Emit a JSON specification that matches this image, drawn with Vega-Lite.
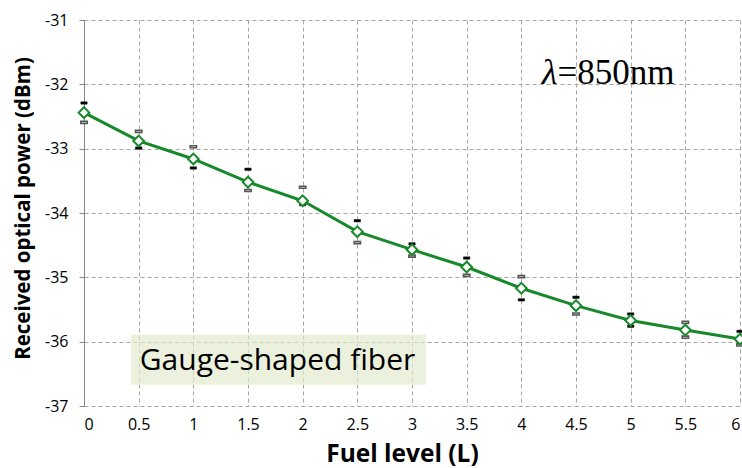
{
  "$schema": "https://vega.github.io/schema/vega-lite/v6.json",
  "width": 656,
  "height": 386,
  "autosize": "none",
  "padding": {"left": 84, "top": 20, "right": 2, "bottom": 62},
  "background": "white",
  "config": {
    "view": {"stroke": null},
    "font": "Open Sans",
    "axis": {
      "labelFont": "Open Sans",
      "labelFontSize": 16,
      "labelColor": "#000000",
      "titleFont": "Open Sans",
      "titleColor": "#000000",
      "titleFontWeight": "bold",
      "gridColor": "#a6a6a6",
      "gridDash": [4, 3],
      "gridWidth": 1,
      "domainColor": "#868686",
      "tickColor": "#868686"
    }
  },
  "datasets": {
    "mean": [
      {"fuel": 0, "power": -32.44},
      {"fuel": 0.5, "power": -32.88},
      {"fuel": 1, "power": -33.16},
      {"fuel": 1.5, "power": -33.52},
      {"fuel": 2, "power": -33.81},
      {"fuel": 2.5, "power": -34.29},
      {"fuel": 3, "power": -34.57},
      {"fuel": 3.5, "power": -34.84},
      {"fuel": 4, "power": -35.17},
      {"fuel": 4.5, "power": -35.44},
      {"fuel": 5, "power": -35.67},
      {"fuel": 5.5, "power": -35.82},
      {"fuel": 6, "power": -35.96}
    ],
    "marks": [
      {"fuel": 0, "power": -32.29, "kind": "black"},
      {"fuel": 0, "power": -32.59, "kind": "gray"},
      {"fuel": 0.5, "power": -32.73, "kind": "gray"},
      {"fuel": 0.5, "power": -32.99, "kind": "black"},
      {"fuel": 1, "power": -32.97, "kind": "gray"},
      {"fuel": 1, "power": -33.30, "kind": "black"},
      {"fuel": 1.5, "power": -33.32, "kind": "black"},
      {"fuel": 1.5, "power": -33.65, "kind": "gray"},
      {"fuel": 2, "power": -33.60, "kind": "gray"},
      {"fuel": 2, "power": -33.87, "kind": "black"},
      {"fuel": 2.5, "power": -34.12, "kind": "black"},
      {"fuel": 2.5, "power": -34.46, "kind": "gray"},
      {"fuel": 3, "power": -34.48, "kind": "black"},
      {"fuel": 3, "power": -34.67, "kind": "gray"},
      {"fuel": 3.5, "power": -34.70, "kind": "black"},
      {"fuel": 3.5, "power": -34.97, "kind": "gray"},
      {"fuel": 4, "power": -34.99, "kind": "gray"},
      {"fuel": 4, "power": -35.35, "kind": "black"},
      {"fuel": 4.5, "power": -35.31, "kind": "black"},
      {"fuel": 4.5, "power": -35.57, "kind": "gray"},
      {"fuel": 5, "power": -35.57, "kind": "black"},
      {"fuel": 5, "power": -35.76, "kind": "black"},
      {"fuel": 5.5, "power": -35.70, "kind": "gray"},
      {"fuel": 5.5, "power": -35.93, "kind": "gray"},
      {"fuel": 6, "power": -35.84, "kind": "black"},
      {"fuel": 6, "power": -36.05, "kind": "gray"}
    ],
    "box": [
      {"x1": 0.43, "x2": 3.13, "y1": -35.89, "y2": -36.67}
    ],
    "notes": [
      {"fuel": 0.51, "power": -36.44, "label": "Gauge-shaped fiber"}
    ],
    "lambda": [
      {"fuel": 4.33, "power": -32.0, "sym": "λ", "rest": "=850nm"}
    ]
  },
  "layer": [
    {
      "data": {"name": "box"},
      "mark": {"type": "rect", "fill": "#e0eacb", "opacity": 0.65},
      "encoding": {
        "x": {"field": "x1", "type": "quantitative", "scale": {"domain": [0, 6], "nice": false},
          "axis": {
            "values": [0, 0.5, 1, 1.5, 2, 2.5, 3, 3.5, 4, 4.5, 5, 5.5, 6],
            "format": "~g",
            "domain": false,
            "ticks": false,
            "labelPadding": 10,
            "title": "Fuel level (L)",
            "titleFontSize": 24.5,
            "titleX": 318,
            "titleY": 55,
            "titleBaseline": "alphabetic"
          }
        },
        "x2": {"field": "x2"},
        "y": {"field": "y1", "type": "quantitative", "scale": {"domain": [-37, -31], "nice": false},
          "axis": {
            "values": [-37, -36, -35, -34, -33, -32, -31],
            "labelExpr": "toString(datum.value)",
            "tickSize": 5,
            "labelPadding": 11,
            "title": "Received optical power (dBm)",
            "titleFontSize": 20.5,
            "titleX": -61,
            "titleY": 188,
            "titleBaseline": "middle"
          }
        },
        "y2": {"field": "y2"}
      }
    },
    {
      "mark": {"type": "rule", "color": "#868686", "strokeWidth": 1},
      "encoding": {"y": {"datum": -31, "type": "quantitative"}}
    },
    {
      "data": {"name": "mean"},
      "mark": {"type": "line", "color": "#17892b", "strokeWidth": 3},
      "encoding": {
        "x": {"field": "fuel", "type": "quantitative"},
        "y": {"field": "power", "type": "quantitative"}
      }
    },
    {
      "data": {"name": "marks"},
      "transform": [{"filter": "datum.kind === 'black'"}],
      "mark": {"type": "point", "shape": "M-1,-0.38L1,-0.38L1,0.38L-1,0.38Z", "size": 40, "filled": true, "fill": "#000000", "stroke": "#000000", "strokeWidth": 0.5, "opacity": 1},
      "encoding": {
        "x": {"field": "fuel", "type": "quantitative"},
        "y": {"field": "power", "type": "quantitative"}
      }
    },
    {
      "data": {"name": "marks"},
      "transform": [{"filter": "datum.kind === 'gray'"}],
      "mark": {"type": "point", "shape": "M-1,-0.33L1,-0.33L1,0.33L-1,0.33Z", "size": 40, "filled": true, "fill": "#ffffff", "stroke": "#555555", "strokeWidth": 1.6, "opacity": 1},
      "encoding": {
        "x": {"field": "fuel", "type": "quantitative"},
        "y": {"field": "power", "type": "quantitative"}
      }
    },
    {
      "data": {"name": "mean"},
      "mark": {"type": "point", "shape": "diamond", "size": 115, "filled": true, "fill": "#ffffff", "stroke": "#17892b", "strokeWidth": 2, "opacity": 1},
      "encoding": {
        "x": {"field": "fuel", "type": "quantitative"},
        "y": {"field": "power", "type": "quantitative"}
      }
    },
    {
      "data": {"name": "notes"},
      "mark": {"type": "text", "align": "left", "baseline": "alphabetic", "font": "Open Sans", "fontSize": 30, "color": "#000000"},
      "encoding": {
        "x": {"field": "fuel", "type": "quantitative"},
        "y": {"field": "power", "type": "quantitative"},
        "text": {"field": "label"}
      }
    },
    {
      "data": {"name": "lambda"},
      "mark": {"type": "text", "align": "right", "baseline": "alphabetic", "font": "Liberation Serif", "fontStyle": "italic", "fontSize": 36, "color": "#000000"},
      "encoding": {
        "x": {"field": "fuel", "type": "quantitative"},
        "y": {"field": "power", "type": "quantitative"},
        "text": {"field": "sym"}
      }
    },
    {
      "data": {"name": "lambda"},
      "mark": {"type": "text", "align": "left", "baseline": "alphabetic", "font": "Liberation Serif", "fontSize": 35, "color": "#000000"},
      "encoding": {
        "x": {"field": "fuel", "type": "quantitative"},
        "y": {"field": "power", "type": "quantitative"},
        "text": {"field": "rest"}
      }
    }
  ]
}
